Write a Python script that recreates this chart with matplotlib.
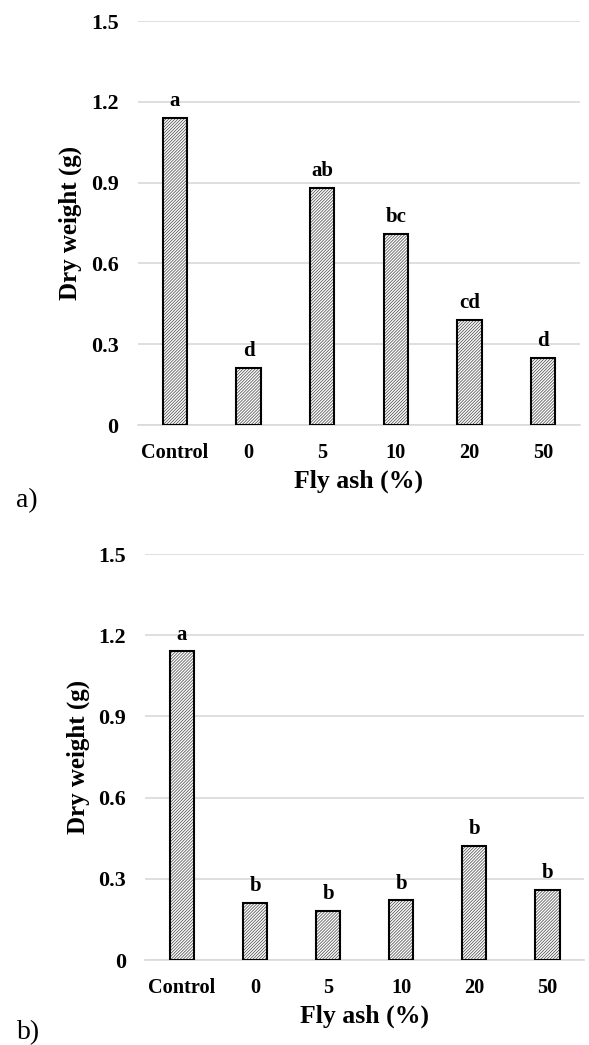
import numpy as np
import matplotlib
matplotlib.use("Agg")
import matplotlib.pyplot as plt

categories = ["Control", "0", "5", "10", "20", "50"]
weights_a = [1.14, 0.21, 0.88, 0.71, 0.39, 0.25]
letters_a = ["a", "d", "ab", "bc", "cd", "d"]
weights_b = [1.14, 0.21, 0.18, 0.22, 0.42, 0.26]
letters_b = ["a", "b", "b", "b", "b", "b"]
yticks = [0, 0.3, 0.6, 0.9, 1.2, 1.5]
ytick_labels = ["0", "0.3", "0.6", "0.9", "1.2", "1.5"]

plt.rcParams['font.family'] = ['Liberation Serif', 'DejaVu Serif']
plt.rcParams['hatch.linewidth'] = 0.55

fig = plt.figure(figsize=(5.89, 10.45), dpi=100)

# axes boxes in figure fractions (left, bottom, width, height)
boxes = [(0.2343, 0.5933, 0.7504, 0.3866), (0.2470, 0.0813, 0.7445, 0.3885)]
panels = [(weights_a, letters_a, "a)", 0.521), (weights_b, letters_b, "b)", 0.012)]

for box, (vals, lets, tag, tag_y) in zip(boxes, panels):
    ax = fig.add_axes(box)
    x = np.arange(len(categories))
    # hatch fill, then black outline
    ax.bar(x, vals, width=0.33, color="white", edgecolor="#505050",
           hatch="///////////", linewidth=0, zorder=3)
    ax.bar(x, vals, width=0.33, fill=False, edgecolor="black",
           linewidth=1.5, zorder=4)
    for xi, v, l in zip(x, vals, lets):
        ax.annotate(l, (xi, v), xytext=(0, 5), textcoords="offset points",
                    ha="center", va="bottom", fontsize=15, fontweight="bold")
    ax.set_xlim(-0.5, len(categories) - 0.5)
    ax.set_ylim(0, 1.5)
    ax.set_yticks(yticks)
    ax.set_yticklabels(ytick_labels)
    ax.set_xticks(x)
    ax.set_xticklabels(categories)
    ax.grid(axis="y", color="#d9d9d9", linewidth=1.2, zorder=0)
    for s in ["top", "right", "left"]:
        ax.spines[s].set_visible(False)
    ax.spines["bottom"].set_color("#d9d9d9")
    ax.spines["bottom"].set_linewidth(1.2)
    ax.tick_params(length=0)
    ax.tick_params(axis="y", pad=14, labelsize=15.8)
    ax.tick_params(axis="x", pad=13, labelsize=14.6)
    for t in ax.get_xticklabels() + ax.get_yticklabels():
        t.set_fontweight("bold")
    ax.set_xlabel("Fly ash (%)", fontsize=18.5, fontweight="bold", labelpad=5)
    ax.set_ylabel("Dry weight (g)", fontsize=18, fontweight="bold", labelpad=6)
    fig.text(0.028, tag_y, tag, fontsize=20, ha="left", va="center")

fig.savefig("out.png", dpi=100)
